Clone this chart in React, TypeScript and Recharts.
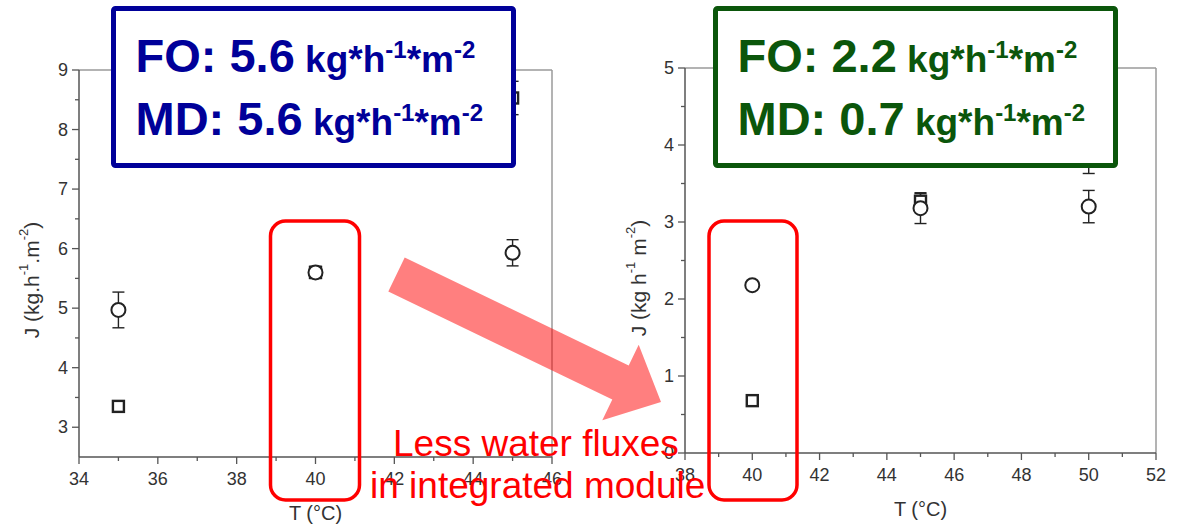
import { ScatterChart, Scatter, XAxis, YAxis, ErrorBar, ReferenceLine } from "recharts";

// left panel: stand-alone modules
const LEFT_T = [35, 40, 45];
const LEFT_FO = [4.97, 5.6, 5.93];
const LEFT_FO_ERR = [0.3, 0.1, 0.22];
const LEFT_MD = [3.35, 5.6, 8.53];
const LEFT_MD_ERR = [0.05, 0.1, 0.28];

// right panel: integrated module
const RIGHT_T = [40, 45, 50];
const RIGHT_FO = [2.18, 3.18, 3.2];
const RIGHT_FO_ERR = [0.03, 0.2, 0.21];
const RIGHT_MD = [0.68, 3.27, 3.85];
const RIGHT_MD_ERR = [0.03, 0.1, 0.22];

const LEFT_X_TICKS = [34, 35, 36, 37, 38, 39, 40, 41, 42, 43, 44, 45, 46];
const LEFT_X_LABELS = [34, 36, 38, 40, 42, 44, 46];
const LEFT_Y_TICKS = [3, 3.5, 4, 4.5, 5, 5.5, 6, 6.5, 7, 7.5, 8, 8.5, 9];
const LEFT_Y_LABELS = [3, 4, 5, 6, 7, 8, 9];

const RIGHT_X_TICKS = [38, 39, 40, 41, 42, 43, 44, 45, 46, 47, 48, 49, 50, 51, 52];
const RIGHT_X_LABELS = [38, 40, 42, 44, 46, 48, 50, 52];
const RIGHT_Y_TICKS = [0, 0.5, 1, 1.5, 2, 2.5, 3, 3.5, 4, 4.5, 5];
const RIGHT_Y_LABELS = [0, 1, 2, 3, 4, 5];

const FONT = "'Liberation Sans', Arial, sans-serif";
const AXIS = "#555";
const FRAME = "#9a9a9a";
const INK = "#222";
const BLUE = "#000099";
const GREEN = "#0b560b";
const RED = "#ff0000";

const rows = (t: number[], j: number[], err: number[]) => t.map((v, i) => ({ t: v, j: j[i], err: err[i] }));

const circleShape = (p: any) => (
  <circle cx={p.cx} cy={p.cy} r={7} fill="#fff" stroke={INK} strokeWidth={2} />
);
const squareShape = (p: any) => (
  <rect x={p.cx - 5.5} y={p.cy - 5.5} width={11} height={11} fill="#fff" stroke={INK} strokeWidth={2.4} />
);

function XTick(props: any) {
  const { x, y, payload, labels } = props;
  const major = labels.includes(payload.value);
  return (
    <g>
      <line x1={x} x2={x} y1={y} y2={y + (major ? 7 : 4)} stroke={AXIS} strokeWidth={1.3} />
      {major && (
        <text x={x} y={y + 28} textAnchor="middle" fontSize={18} fill="#333" fontFamily={FONT}>
          {payload.value}
        </text>
      )}
    </g>
  );
}

function YTick(props: any) {
  const { x, y, payload, labels } = props;
  const major = labels.includes(payload.value);
  return (
    <g>
      <line x1={x - (major ? 7 : 4)} x2={x} y1={y} y2={y} stroke={AXIS} strokeWidth={1.3} />
      {major && (
        <text x={x - 11} y={y + 6} textAnchor="end" fontSize={18} fill="#333" fontFamily={FONT}>
          {payload.value}
        </text>
      )}
    </g>
  );
}

function YTitle({ cx, cy, sep }: { cx: number; cy: number; sep: string }) {
  return (
    <text
      x={cx}
      y={cy}
      transform={`rotate(-90, ${cx}, ${cy})`}
      textAnchor="middle"
      dominantBaseline="central"
      fontSize={21}
      fill="#333"
      fontFamily={FONT}
    >
      J (kg{sep}h
      <tspan fontSize={13} dy={-8}>-1</tspan>
      <tspan dy={8}>{sep}m</tspan>
      <tspan fontSize={13} dy={-8}>-2</tspan>
      <tspan dy={8}>)</tspan>
    </text>
  );
}

function Panel(props: {
  width: number;
  margin: any;
  xDomain: number[];
  yDomain: number[];
  xTicks: number[];
  xLabels: number[];
  yTicks: number[];
  yLabels: number[];
  fo: any[];
  md: any[];
  sep: string;
  titleX: number;
  titleY: number;
}) {
  const { width, margin, xDomain, yDomain } = props;
  return (
    <ScatterChart width={width} height={530} margin={margin}>
      <XAxis
        type="number"
        dataKey="t"
        domain={xDomain}
        ticks={props.xTicks}
        interval={0}
        tickSize={0}
        tickMargin={0}
        tickLine={false}
        height={40}
        stroke={AXIS}
        strokeWidth={1.5}
        tick={<XTick labels={props.xLabels} />}
        label={{
          content: ({ viewBox }: any) => (
            <text
              x={viewBox.x + viewBox.width / 2}
              y={viewBox.y + 63}
              textAnchor="middle"
              fontSize={20}
              fill="#333"
              fontFamily={FONT}
            >
              T (°C)
            </text>
          ),
        }}
      />
      <YAxis
        type="number"
        dataKey="j"
        domain={yDomain}
        ticks={props.yTicks}
        interval={0}
        tickSize={0}
        tickMargin={0}
        tickLine={false}
        width={50}
        stroke={AXIS}
        strokeWidth={1.5}
        tick={<YTick labels={props.yLabels} />}
        label={{ content: () => <YTitle cx={props.titleX} cy={props.titleY} sep={props.sep} /> }}
      />
      <ReferenceLine y={yDomain[1]} stroke={FRAME} strokeWidth={1.5} />
      <ReferenceLine x={xDomain[1]} stroke={FRAME} strokeWidth={1.5} />
      <Scatter data={props.md} shape={squareShape} isAnimationActive={false}>
        <ErrorBar dataKey="err" direction="y" width={6} stroke={INK} strokeWidth={1.4} />
      </Scatter>
      <Scatter data={props.fo} shape={circleShape} isAnimationActive={false}>
        <ErrorBar dataKey="err" direction="y" width={6} stroke={INK} strokeWidth={1.4} />
      </Scatter>
    </ScatterChart>
  );
}

function Unit({ size }: { size: number }) {
  return (
    <>
      <tspan fontSize={size}> kg*h</tspan>
      <tspan fontSize={24} dy={-14}>-1</tspan>
      <tspan fontSize={size} dy={14}>*m</tspan>
      <tspan fontSize={24} dy={-14}>-2</tspan>
    </>
  );
}

function FluxBox({ x, color, fo, md }: { x: number; color: string; fo: string; md: string }) {
  return (
    <g fontFamily={FONT} fontWeight="bold" fill={color}>
      <rect x={x} y={8.5} width={400} height={157} rx={2} fill="#fff" stroke={color} strokeWidth={5} />
      <text x={x + 22} y={72} fontSize={47}>
        FO: {fo}
        <Unit size={37} />
      </text>
      <text x={x + 22} y={135} fontSize={47}>
        MD: {md}
        <Unit size={37} />
      </text>
    </g>
  );
}

export default function App() {
  return (
    <div style={{ position: "absolute", left: 0, top: 0, width: 1184, height: 530, background: "#fff" }}>
      <div style={{ position: "absolute", left: 0, top: 0 }}>
        <Panel
          width={600}
          margin={{ top: 70, right: 48, bottom: 33, left: 29 }}
          xDomain={[34, 46]}
          yDomain={[2.5, 9]}
          xTicks={LEFT_X_TICKS}
          xLabels={LEFT_X_LABELS}
          yTicks={LEFT_Y_TICKS}
          yLabels={LEFT_Y_LABELS}
          fo={rows(LEFT_T, LEFT_FO, LEFT_FO_ERR)}
          md={rows(LEFT_T, LEFT_MD, LEFT_MD_ERR)}
          sep="."
          titleX={31}
          titleY={280}
        />
      </div>
      <div style={{ position: "absolute", left: 600, top: 0 }}>
        <Panel
          width={584}
          margin={{ top: 68, right: 28, bottom: 37, left: 35 }}
          xDomain={[38, 52]}
          yDomain={[0, 5]}
          xTicks={RIGHT_X_TICKS}
          xLabels={RIGHT_X_LABELS}
          yTicks={RIGHT_Y_TICKS}
          yLabels={RIGHT_Y_LABELS}
          fo={rows(RIGHT_T, RIGHT_FO, RIGHT_FO_ERR)}
          md={rows(RIGHT_T, RIGHT_MD, RIGHT_MD_ERR)}
          sep=" "
          titleX={38}
          titleY={278}
        />
      </div>
      <svg
        width={1184}
        height={530}
        style={{ position: "absolute", left: 0, top: 0, pointerEvents: "none" }}
      >
        <FluxBox x={113.5} color={BLUE} fo="5.6" md="5.6" />
        <FluxBox x={715.5} color={GREEN} fo="2.2" md="0.7" />
        <rect x={270.5} y={221} width={89} height={279} rx={15} fill="none" stroke={RED} strokeWidth={3.5} />
        <rect x={709} y={221} width={88} height={279} rx={15} fill="none" stroke={RED} strokeWidth={3.5} />
        <polygon
          points="404.7,257.4 628.7,365.4 638.7,344.7 661,402 602.3,420.3 612.3,399.6 388.3,291.6"
          fill={RED}
          fillOpacity={0.5}
        />
        <text x={393} y={456} fontSize={37} fill={RED} fontFamily={FONT}>
          Less water fluxes
        </text>
        <text x={370} y={498} fontSize={37} fill={RED} fontFamily={FONT}>
          in integrated module
        </text>
      </svg>
    </div>
  );
}
